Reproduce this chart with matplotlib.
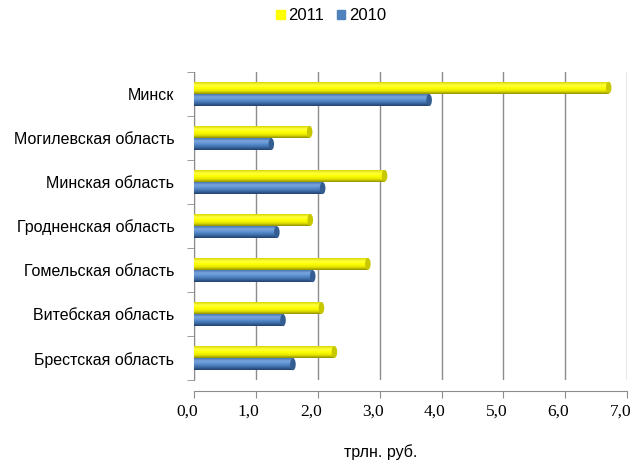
import numpy as np
import matplotlib.pyplot as plt
from matplotlib import font_manager
from matplotlib.colors import LinearSegmentedColormap
from matplotlib.transforms import ScaledTranslation

regions = ['Минск', 'Могилевская область', 'Минская область',
           'Гродненская область', 'Гомельская область',
           'Витебская область', 'Брестская область']
v2011 = [6.7, 1.87, 3.08, 1.88, 2.81, 2.06, 2.27]
v2010 = [3.80, 1.25, 2.08, 1.34, 1.92, 1.44, 1.60]
xticks = np.arange(0, 8, 1)
xticklabels = ['0,0', '1,0', '2,0', '3,0', '4,0', '5,0', '6,0', '7,0']

yellow_cmap = LinearSegmentedColormap.from_list(
    'y', ['#8f8f00', '#e6e600', '#ffff00', '#ffff40', '#d8d800'])
blue_cmap = LinearSegmentedColormap.from_list(
    'b', ['#23406a', '#3d6ca8', '#5b8fd0', '#7aa6dc', '#4a78b4'])


def has_font(name):
    try:
        font_manager.findfont(name, fallback_to_default=False)
        return True
    except Exception:
        return False


# the reference text is narrow and tall
if has_font('Liberation Sans Narrow'):
    sans, sans_size = 'Liberation Sans Narrow', 13.5
else:
    sans, sans_size = 'Liberation Sans', 11.5


def gradient_bars(ax, ys, vals, h, cmap, edge):
    bars = ax.barh(ys, vals, height=h, color='none', edgecolor='none',
                   zorder=3)
    grad = np.linspace(0, 1, 64).reshape(-1, 1)
    for b in bars:
        x0, y0 = b.get_x(), b.get_y()
        w, hh = b.get_width(), b.get_height()
        im = ax.imshow(grad, cmap=cmap, aspect='auto', origin='lower',
                       extent=(x0, x0 + w, y0, y0 + hh), zorder=3,
                       interpolation='bilinear')
        im.set_clip_path(b)
        # rounded end cap
        ax.add_patch(plt.matplotlib.patches.Ellipse(
            (x0 + w, y0 + hh / 2), 0.09, hh, facecolor=edge,
            edgecolor='none', zorder=4))
    return bars


fig = plt.figure(figsize=(6.42, 4.67), dpi=100)
ax = fig.add_axes([0.302, 0.186, 0.675, 0.66])

pos = np.arange(len(regions))[::-1]
h = 0.27
gradient_bars(ax, pos + 0.14, v2011, h, yellow_cmap, '#c8c800')
gradient_bars(ax, pos - 0.14, v2010, h, blue_cmap, '#345d91')

ax.set_xlim(0, 7)
ax.set_ylim(-0.5, 6.5)

for x in xticks:
    ax.axvline(x, color='#8c8c8c', lw=1.0, zorder=1)

for s in ['top', 'right']:
    ax.spines[s].set_visible(False)
ax.spines['left'].set_color('#8c8c8c')
ax.spines['bottom'].set_color('#8c8c8c')
ax.spines['bottom'].set_position(('outward', 8))

ax.set_xticks(xticks)
ax.set_xticklabels(xticklabels, family='Liberation Serif', fontsize=12.5)
ax.tick_params(axis='x', length=5, color='#8c8c8c', pad=4)
shift = ScaledTranslation(-7 / 100, 0, fig.dpi_scale_trans)
for lab in ax.get_xticklabels():
    lab.set_transform(lab.get_transform() + shift)

ax.set_yticks(pos)
ax.set_yticklabels(regions, family=sans, fontsize=sans_size)
ax.tick_params(axis='y', length=0, pad=14)
ax.set_yticks(np.arange(-0.5, 7, 1), minor=True)
ax.tick_params(axis='y', which='minor', length=5, color='#8c8c8c')

fig.text(381 / 642, 1 - 452 / 467, 'трлн. руб.', family=sans,
         fontsize=sans_size, ha='center', va='center')

handles = [plt.Rectangle((0, 0), 1, 1, color='#ffff00'),
           plt.Rectangle((0, 0), 1, 1, color='#4f81bd')]
fig.legend(handles, ['2011', '2010'], loc='center',
           bbox_to_anchor=(331 / 642, 1 - 16 / 467), ncol=2, frameon=False,
           prop={'family': sans, 'size': 12},
           handlelength=0.5, handleheight=0.5, handletextpad=0.2,
           columnspacing=0.8)

plt.savefig('out.png', dpi=100)
